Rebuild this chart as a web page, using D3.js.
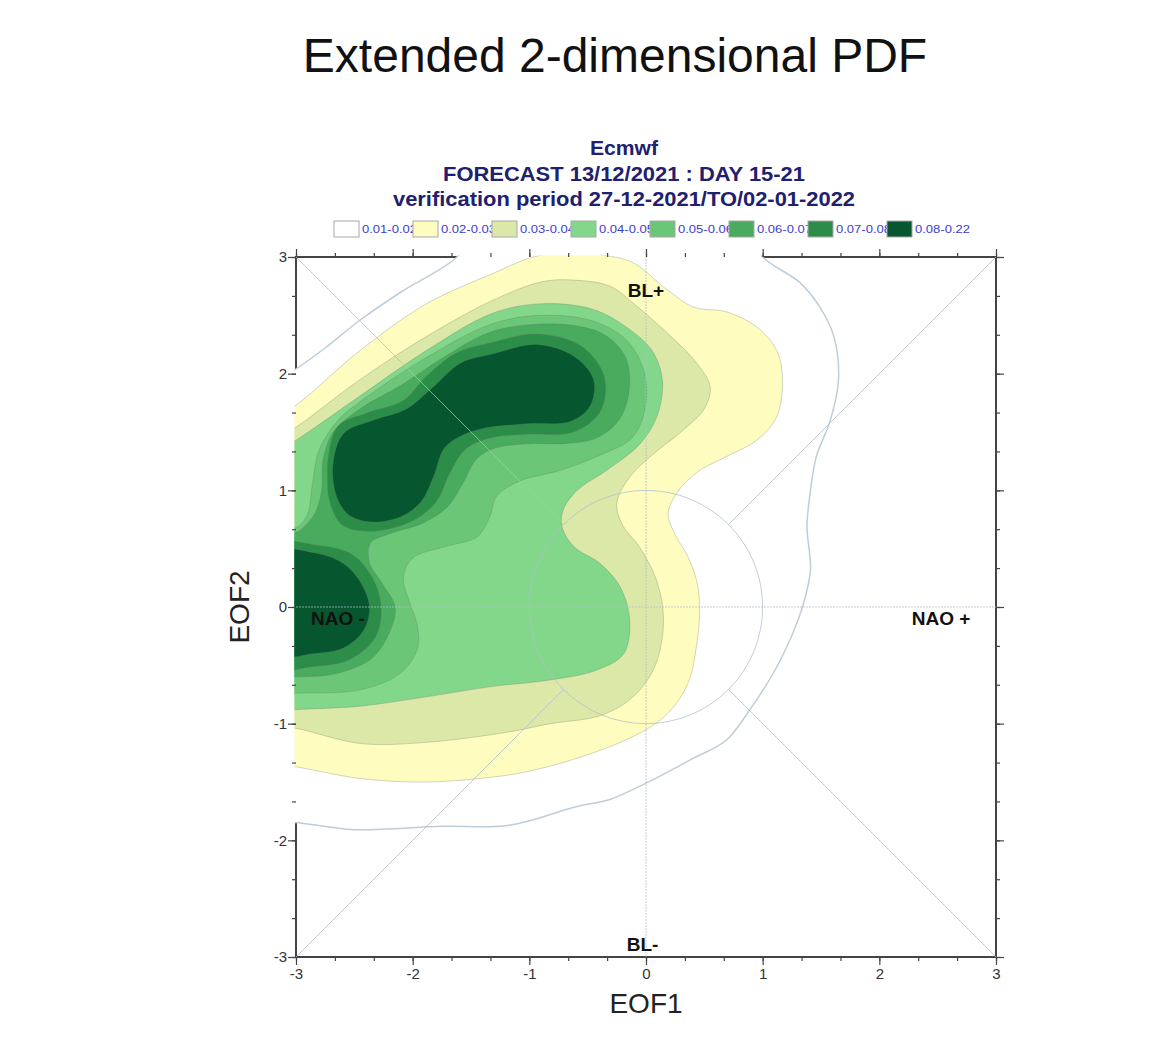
<!doctype html>
<html>
<head>
<meta charset="utf-8">
<script src="https://cdn.jsdelivr.net/npm/d3@7"></script>
<style>
body { margin: 0; background: #fff; }
text { font-family: "Liberation Sans", Arial, sans-serif; }
</style>
</head>
<body>
<script>

// density classes (lower bound of each band) and legend text
var levels = [0.01, 0.02, 0.03, 0.04, 0.05, 0.06, 0.07, 0.08];
var legendLabels = ["0.01-0.02", "0.02-0.03", "0.03-0.04", "0.04-0.05", "0.05-0.06", "0.06-0.07", "0.07-0.08", "0.08-0.22"];
var palette = ["#ffffff", "#fffcbf", "#dce8a8", "#82d78a", "#6cc678", "#48ab5d", "#2b8d48", "#06562f"];

var xTicks = [-3, -2, -1, 0, 1, 2, 3];
var yTicks = [-3, -2, -1, 0, 1, 2, 3];

var regimes = [
  {name: "BL+",   x: 0.0,   y: 2.66},
  {name: "NAO -", x: -2.64, y: -0.15},
  {name: "NAO +", x: 2.53,  y: -0.15},
  {name: "BL-",   x: -0.03, y: -2.95}
];

// contour outlines, [EOF1, EOF2]
var pdf01 = [[-3.3,1.85],[-3,2.04],[-2.75,2.22],[-2.45,2.46],[-2.1,2.7],[-1.62,3.0],[-1.4,3.3],[0.8,3.3],[1.0,3.0],
  [1.32,2.78],[1.49,2.57],[1.61,2.32],[1.65,1.95],[1.58,1.6],[1.46,1.29],[1.41,1.0],[1.38,0.69],[1.41,0.32],[1.35,0.03],
  [1.26,-0.22],[1.09,-0.57],[0.89,-0.88],[0.69,-1.14],[0.38,-1.31],[0.0,-1.51],[-0.31,-1.65],[-0.59,-1.71],[-1.17,-1.87],
  [-1.74,-1.88],[-2.45,-1.91],[-2.68,-1.89],[-2.98,-1.85],[-3.3,-1.8]];
var pdf02 = [[-3.3,1.55],[-3,1.73],[-2.45,2.2],[-1.88,2.6],[-1.31,2.86],[-0.97,3.0],[-0.74,3.03],[-0.4,3.02],[-0.11,2.95],
  [0.18,2.72],[0.41,2.57],[0.69,2.53],[0.95,2.40],[1.12,2.20],[1.17,1.95],[1.12,1.63],[0.95,1.43],[0.69,1.29],[0.43,1.15],
  [0.26,0.97],[0.19,0.80],[0.25,0.62],[0.36,0.43],[0.44,0.2],[0.46,-0.05],[0.43,-0.35],[0.38,-0.6],[0.28,-0.8],[0.12,-0.97],
  [-0.11,-1.11],[-0.54,-1.28],[-0.97,-1.40],[-1.25,-1.45],[-1.88,-1.50],[-2.45,-1.47],[-3,-1.37],[-3.3,-1.33]];
var pdf03 = [[-3.3,1.35],[-3,1.54],[-2.45,1.95],[-1.88,2.32],[-1.31,2.63],[-0.88,2.79],[-0.59,2.80],[-0.31,2.75],[-0.08,2.58],
  [0.18,2.35],[0.41,2.12],[0.55,1.89],[0.5,1.7],[0.3,1.5],[0.05,1.3],[-0.15,1.1],[-0.25,0.89],[-0.2,0.7],[-0.06,0.52],
  [0.09,0.23],[0.15,-0.11],[0.08,-0.5],[-0.11,-0.77],[-0.39,-0.93],[-0.82,-1.0],[-1.17,-1.07],[-1.88,-1.16],[-2.45,-1.17],
  [-3,-1.04],[-3.3,-1.0]];
var pdf04 = [[-3.3,1.25],[-3,1.43],[-2.45,1.81],[-1.88,2.2],[-1.31,2.52],[-0.88,2.6],[-0.45,2.55],[-0.17,2.4],[0.05,2.2],
  [0.14,1.95],[0.1,1.65],[-0.05,1.40],[-0.34,1.17],[-0.59,1.0],[-0.71,0.83],[-0.72,0.69],[-0.62,0.52],[-0.39,0.37],
  [-0.22,0.17],[-0.14,-0.11],[-0.19,-0.40],[-0.42,-0.54],[-0.85,-0.63],[-1.31,-0.68],[-1.88,-0.77],[-2.45,-0.85],
  [-3,-0.88],[-3.3,-0.9]];
var pdf05 = [[-3.3,0.68],[-3,0.68],[-2.9,0.8],[-2.86,1.05],[-2.8,1.35],[-2.64,1.6],[-2.45,1.76],[-1.88,2.14],[-1.31,2.43],
  [-0.88,2.50],[-0.45,2.45],[-0.17,2.29],[-0.02,2.03],[0.0,1.75],[-0.11,1.46],[-0.42,1.29],[-0.74,1.17],[-1.08,1.08],
  [-1.28,0.95],[-1.34,0.77],[-1.45,0.6],[-1.71,0.52],[-2.0,0.42],[-2.08,0.25],[-2.03,0.05],[-1.96,-0.16],[-1.96,-0.36],
  [-2.11,-0.57],[-2.45,-0.71],[-3,-0.74],[-3.3,-0.75]];
var pdf06 = [[-3.3,-0.6],[-3,-0.6],[-2.65,-0.57],[-2.35,-0.44],[-2.2,-0.22],[-2.15,0.0],[-2.26,0.2],[-2.37,0.38],
  [-2.36,0.55],[-2.19,0.63],[-1.91,0.72],[-1.7,0.86],[-1.57,1.06],[-1.45,1.27],[-1.3,1.36],[-1.0,1.4],[-0.7,1.4],
  [-0.42,1.45],[-0.22,1.62],[-0.14,1.9],[-0.18,2.15],[-0.35,2.33],[-0.6,2.41],[-1.0,2.42],[-1.35,2.35],[-1.75,2.13],
  [-2.1,1.9],[-2.45,1.70],[-2.68,1.5],[-2.77,1.25],[-2.78,1.0],[-2.84,0.8],[-2.95,0.67],[-3,0.64],[-3.3,0.64]];
var pdf07a = [[-2.72,1.3],[-2.64,1.55],[-2.4,1.66],[-2.08,1.77],[-1.88,1.98],[-1.62,2.18],[-1.31,2.27],[-0.94,2.34],
  [-0.56,2.24],[-0.36,1.98],[-0.39,1.68],[-0.62,1.5],[-1.02,1.48],[-1.33,1.45],[-1.55,1.35],[-1.68,1.15],[-1.8,0.9],
  [-2.0,0.74],[-2.35,0.65],[-2.6,0.7],[-2.71,0.9],[-2.73,1.1]];
var pdf07b = [[-3.2,0.53],[-2.82,0.53],[-2.52,0.45],[-2.34,0.24],[-2.27,0.0],[-2.32,-0.26],[-2.54,-0.45],[-2.85,-0.51],[-3.2,-0.51]];
var pdf08a = [[-2.68,1.25],[-2.59,1.49],[-2.34,1.60],[-2.05,1.70],[-1.82,1.89],[-1.59,2.09],[-1.31,2.17],[-0.94,2.25],
  [-0.62,2.15],[-0.45,1.95],[-0.48,1.72],[-0.65,1.59],[-1.02,1.57],[-1.4,1.53],[-1.6,1.46],[-1.73,1.36],[-1.82,1.12],
  [-1.93,0.9],[-2.11,0.77],[-2.37,0.73],[-2.56,0.8],[-2.66,0.97]];
var pdf08b = [[-3.2,0.46],[-2.82,0.46],[-2.59,0.37],[-2.44,0.2],[-2.37,0.0],[-2.42,-0.2],[-2.59,-0.35],[-2.85,-0.40],[-3.2,-0.40]];

var bands = [
  {level: 0.01, rings: [pdf01]},
  {level: 0.02, rings: [pdf02]},
  {level: 0.03, rings: [pdf03]},
  {level: 0.04, rings: [pdf04]},
  {level: 0.05, rings: [pdf05]},
  {level: 0.06, rings: [pdf06]},
  {level: 0.07, rings: [pdf07a, pdf07b]},
  {level: 0.08, rings: [pdf08a, pdf08b]}
];

var W = 1171, H = 1037;
var svg = d3.select("body").append("svg").attr("width", W).attr("height", H);

var x = d3.scaleLinear().domain([-3, 3]).range([296, 996]);
var y = d3.scaleLinear().domain([-3, 3]).range([957, 257]);
var color = d3.scaleOrdinal().domain(levels).range(palette);

// page title
svg.append("text").attr("x", 615).attr("y", 72).attr("text-anchor", "middle")
  .style("font-size", "48px").style("fill", "#111").text("Extended 2-dimensional PDF");

// header block
var header = ["Ecmwf", "FORECAST 13/12/2021 : DAY 15-21", "verification period 27-12-2021/TO/02-01-2022"];
var headerW = [68, 362, 462];
header.forEach((t, i) => {
  svg.append("text").attr("x", 624).attr("y", 155 + 25.5*i).attr("text-anchor", "middle")
    .attr("textLength", headerW[i]).attr("lengthAdjust", "spacingAndGlyphs")
    .style("font-size", "21px").style("font-weight", "bold").style("fill", "#20206e").text(t);
});

// legend: labels first so the next box hides their tail, like the original
var lg = svg.append("g");
legendLabels.forEach((t, i) => {
  lg.append("text").attr("x", 362 + 79*i).attr("y", 233)
    .attr("textLength", 55).attr("lengthAdjust", "spacingAndGlyphs")
    .style("font-size", "11px").style("fill", "#3c3cd2").text(t);
});
levels.forEach((lv, i) => {
  lg.append("rect").attr("x", 334 + 79*i).attr("y", 221).attr("width", 25).attr("height", 16)
    .style("fill", color(lv)).style("stroke", "#a8a8a8").style("stroke-width", 1);
});

// frame (fills paint over it where the density reaches the border)
svg.append("rect").attr("x", x(-3)).attr("y", y(3)).attr("width", x(3) - x(-3)).attr("height", y(-3) - y(3))
  .style("fill", "none").style("stroke", "#444").style("stroke-width", 2);

svg.append("clipPath").attr("id", "plot").append("rect")
  .attr("x", x(-3) - 1.5).attr("y", y(3) - 1.5)
  .attr("width", x(3) - x(-3) + 3).attr("height", y(-3) - y(3) + 3);

var line = d3.line().x(d => x(d[0])).y(d => y(d[1])).curve(d3.curveCatmullRomClosed.alpha(0.5));

var fills = svg.append("g").attr("clip-path", "url(#plot)");
bands.forEach(b => {
  b.rings.forEach(r => {
    fills.append("path").attr("d", line(r))
      .style("fill", color(b.level))
      .style("stroke", b.level == 0.01 ? "#bfcdd8" : "rgba(105,118,105,0.3)")
      .style("stroke-width", b.level == 0.01 ? 1.5 : 1);
  });
});

// reference lines: zero axes, unit circle, diagonals to the circle
var grid = svg.append("g").style("fill", "none").style("stroke", "rgba(175,190,205,0.75)").style("stroke-width", 1);
grid.append("line").attr("x1", x(-3)).attr("x2", x(3)).attr("y1", y(0)).attr("y2", y(0)).style("stroke-dasharray", "2,1");
grid.append("line").attr("x1", x(0)).attr("x2", x(0)).attr("y1", y(-3)).attr("y2", y(3)).style("stroke-dasharray", "2,1");
grid.append("circle").attr("cx", x(0)).attr("cy", y(0)).attr("r", x(1) - x(0));
var r2 = Math.SQRT1_2;
[[-1, 1], [1, 1], [1, -1], [-1, -1]].forEach(c => {
  grid.append("line").attr("x1", x(3*c[0])).attr("y1", y(3*c[1])).attr("x2", x(r2*c[0])).attr("y2", y(r2*c[1]));
});

// axes: major + minor ticks on all four sides
var minor = d3.range(-9, 10).map(n => n/3);
function styleAxis(g) {
  g.select(".domain").remove();
  g.selectAll("line").style("stroke", "#444").style("stroke-width", 1.2);
  g.selectAll("text").style("font-size", "15px").style("fill", "#333").style("font-family", "Liberation Sans, Arial, sans-serif");
}
var fmt = d => String(d);
svg.append("g").attr("transform", "translate(0," + y(-3) + ")")
  .call(d3.axisBottom(x).tickValues(xTicks).tickSize(8).tickPadding(3).tickFormat(fmt)).call(styleAxis);
svg.append("g").attr("transform", "translate(0," + y(-3) + ")")
  .call(d3.axisBottom(x).tickValues(minor).tickSize(4).tickFormat("")).call(styleAxis);
svg.append("g").attr("transform", "translate(" + x(-3) + ",0)")
  .call(d3.axisLeft(y).tickValues(yTicks).tickSize(8).tickPadding(1).tickFormat(fmt)).call(styleAxis);
svg.append("g").attr("transform", "translate(" + x(-3) + ",0)")
  .call(d3.axisLeft(y).tickValues(minor).tickSize(4).tickFormat("")).call(styleAxis);
svg.append("g").attr("transform", "translate(0," + y(3) + ")")
  .call(d3.axisTop(x).tickValues(xTicks).tickSize(8).tickFormat("")).call(styleAxis);
svg.append("g").attr("transform", "translate(0," + y(3) + ")")
  .call(d3.axisTop(x).tickValues(minor).tickSize(4).tickFormat("")).call(styleAxis);
svg.append("g").attr("transform", "translate(" + x(3) + ",0)")
  .call(d3.axisRight(y).tickValues(yTicks).tickSize(8).tickFormat("")).call(styleAxis);
svg.append("g").attr("transform", "translate(" + x(3) + ",0)")
  .call(d3.axisRight(y).tickValues(minor).tickSize(4).tickFormat("")).call(styleAxis);

// axis titles
svg.append("text").attr("x", x(0)).attr("y", 1013).attr("text-anchor", "middle")
  .style("font-size", "28px").style("fill", "#222").text("EOF1");
svg.append("text").attr("transform", "translate(249," + y(0) + ") rotate(-90)").attr("text-anchor", "middle")
  .style("font-size", "28px").style("fill", "#222").text("EOF2");

// regime names
svg.append("g").selectAll("text").data(regimes).join("text")
  .attr("x", d => x(d.x)).attr("y", d => y(d.y)).attr("text-anchor", "middle")
  .style("font-size", "19px").style("font-weight", "bold").style("fill", "#111")
  .text(d => d.name);

</script>
</body>
</html>
